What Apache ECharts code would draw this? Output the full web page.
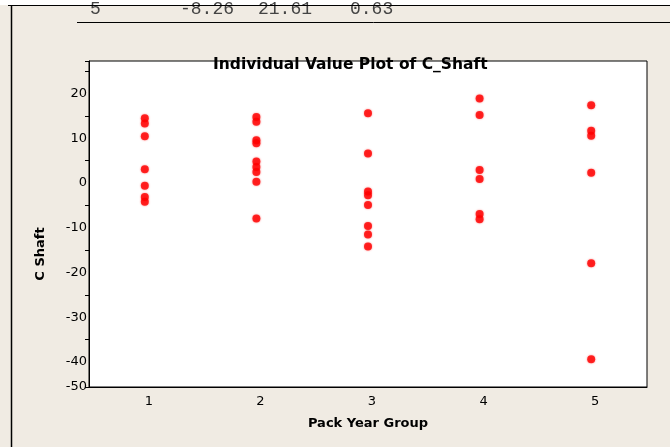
<!DOCTYPE html>
<html>
<head>
<meta charset="utf-8">
<script src="https://cdn.jsdelivr.net/npm/echarts@6/dist/echarts.min.js"></script>
<style>
html,body{margin:0;padding:0;background:#f0ebe3;}
#chart{width:670px;height:447px;}
</style>
</head>
<body>
<div id="chart"></div>
<script>
// Data
var groups = ['1', '2', '3', '4', '5'];
var group1 = [14.5, 13.3, 10.5, 3.1, -0.6, -3.1, -4.2];
var group2 = [14.8, 13.7, 9.6, 8.9, 4.8, 3.6, 2.5, 0.3, -7.9];
var group3 = [15.6, 6.6, -1.9, -2.7, -4.9, -9.6, -11.5, -14.2];
var group4 = [18.9, 15.2, 2.9, 0.9, -6.9, -8.1];
var group5 = [17.4, 11.7, 10.6, 2.3, -17.9, -39.4];
var yLabelValues = [-45.6, -40, -30, -20, -10, 0, 10, 20];
var yTickValues = [-45.6, -35, -25, -15, -5, 5, 15, 25, 27.3];
var headerCells = ['5', '-8.26', '21.61', '0.63'];

var all = [group1, group2, group3, group4, group5];
var points = [];
all.forEach(function (arr, gi) {
  arr.forEach(function (v) { points.push([gi, v]); });
});

var chart = echarts.init(document.getElementById('chart'));
var headerX = [90, 180, 258, 350];
var graphics = [
  { type: 'rect', shape: { x: 0, y: 0, width: 670, height: 5 }, style: { fill: '#ffffff' }, silent: true }
];
headerCells.forEach(function (t, i) {
  graphics.push({
    type: 'text', left: headerX[i], top: 0,
    style: { text: t, font: '18px "Liberation Mono"', fill: '#444' },
    silent: true
  });
});
graphics.push(
  { type: 'line', shape: { x1: 8, y1: 5.5, x2: 670, y2: 5.5 }, style: { stroke: '#000', lineWidth: 1 }, silent: true },
  { type: 'line', shape: { x1: 77, y1: 22.5, x2: 670, y2: 22.5 }, style: { stroke: '#000', lineWidth: 1 }, silent: true },
  { type: 'line', shape: { x1: 11.5, y1: 5, x2: 11.5, y2: 447 }, style: { stroke: '#000', lineWidth: 1.5 }, silent: true }
);

chart.setOption({
  backgroundColor: '#f0ebe3',
  animation: false,
  title: {
    text: 'Individual Value Plot of C_Shaft',
    left: 213, top: 52,
    padding: [5, 0, 5, 0],
    textStyle: { fontFamily: 'DejaVu Sans', fontWeight: 'bold', fontSize: 15.5, color: '#000' }
  },
  grid: {
    left: 89, right: 23, top: 61, bottom: 60,
    show: true, backgroundColor: '#ffffff', borderColor: '#000', borderWidth: 1
  },
  xAxis: {
    type: 'category',
    data: groups,
    boundaryGap: true,
    name: 'Pack Year Group',
    nameLocation: 'middle',
    nameGap: 30,
    nameTextStyle: { fontFamily: 'DejaVu Sans', fontWeight: 'bold', fontSize: 13, color: '#000' },
    axisLine: { onZero: false, lineStyle: { color: '#000' } },
    axisTick: { alignWithLabel: true, length: 6, lineStyle: { color: '#000' } },
    axisLabel: { fontFamily: 'DejaVu Sans', fontSize: 13, color: '#000', margin: 8, padding: [0, 0, 0, 8] },
    splitLine: { show: false }
  },
  yAxis: {
    type: 'value',
    min: -45.6, max: 27.3,
    name: 'C Shaft',
    nameLocation: 'middle',
    nameGap: 42,
    nameRotate: 90,
    nameTextStyle: { fontFamily: 'DejaVu Sans', fontWeight: 'bold', fontSize: 13, color: '#000', padding: [0, 60, 0, 0] },
    axisLine: { show: true, lineStyle: { color: '#000' } },
    axisTick: { show: true, length: 4, customValues: yTickValues, lineStyle: { color: '#000' } },
    axisLabel: {
      customValues: yLabelValues,
      fontFamily: 'DejaVu Sans', fontSize: 13, color: '#000', margin: 2,
      formatter: function (v) { return v < -45 ? '-50' : String(v); }
    },
    splitLine: { show: false }
  },
  series: [{
    type: 'scatter',
    data: points,
    symbol: 'circle',
    symbolSize: 8,
    itemStyle: { color: '#ff0000', shadowBlur: 2, shadowColor: 'rgba(255,0,0,0.6)' }
  }],
  graphic: graphics
});
</script>
</body>
</html>
